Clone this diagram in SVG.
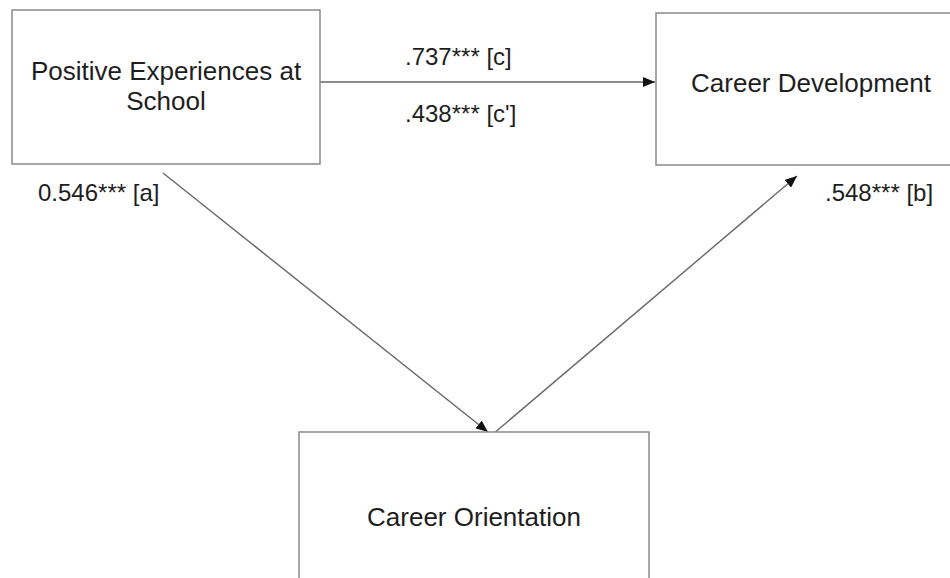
<svg xmlns="http://www.w3.org/2000/svg" width="950" height="578" viewBox="0 0 950 578">
<style>
  .box { fill: #ffffff; stroke: #8a8a8a; stroke-width: 1.5; }
  .node-text { font-family: "Liberation Sans", Arial, sans-serif; font-size: 26px; fill: #1e1e1e; text-anchor: middle; }
  .label { font-family: "Liberation Sans", Arial, sans-serif; font-size: 24px; fill: #1e1e1e; }
  .edge { stroke: #666666; stroke-width: 1.4; fill: none; }
</style>
<defs>
  <marker id="arrow" viewBox="0 0 12 10" refX="12" refY="5" markerWidth="12" markerHeight="10" markerUnits="userSpaceOnUse" orient="auto">
    <path d="M0,0 L12,5 L0,10 Z" fill="#111111"/>
  </marker>
</defs>
<rect width="950" height="578" fill="#ffffff"/>
<g id="connectors">
  <line class="edge" x1="320" y1="82" x2="655" y2="82" marker-end="url(#arrow)"/>
  <line class="edge" x1="163" y1="173" x2="488" y2="432" marker-end="url(#arrow)"/>
  <line class="edge" x1="493" y1="434" x2="797" y2="176" marker-end="url(#arrow)"/>
</g>
<g id="node-positive">
  <rect class="box" x="12" y="10" width="308" height="154"/>
  <text class="node-text" x="166" y="80">Positive Experiences at</text>
  <text class="node-text" x="166" y="110">School</text>
</g>
<g id="node-career-development">
  <rect class="box" x="656" y="13" width="310" height="152"/>
  <text class="node-text" x="811" y="92">Career Development</text>
</g>
<g id="node-career-orientation">
  <rect class="box" x="299" y="432" width="350" height="160"/>
  <text class="node-text" x="474" y="526">Career Orientation</text>
</g>
<g id="labels">
  <text class="label" x="405" y="65">.737*** [c]</text>
  <text class="label" x="405" y="122">.438*** [c']</text>
  <text class="label" x="38" y="201">0.546*** [a]</text>
  <text class="label" x="825" y="201">.548*** [b]</text>
</g>
</svg>
